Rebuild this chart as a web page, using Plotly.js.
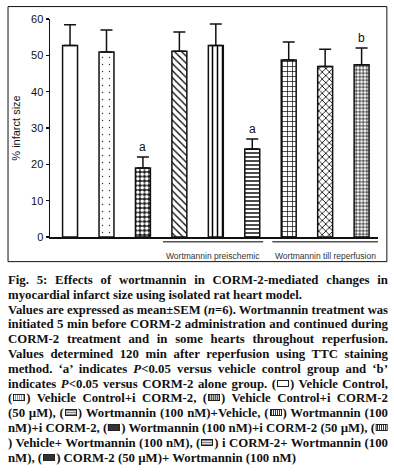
<!DOCTYPE html>
<html>
<head>
<meta charset="utf-8">
<script src="https://cdn.plot.ly/plotly-3.0.1.min.js"></script>
<style>
  html, body { margin: 0; padding: 0; background: #fff; }
  #wrap { position: relative; width: 394px; height: 472px; overflow: hidden; }
  #chart { position: absolute; left: 0; top: 0; width: 394px; height: 472px; }
  #caption {
    position: absolute; left: 8px; top: 273px; width: 380px;
    font-family: "Liberation Serif", "Times New Roman", serif;
    font-weight: bold; font-size: 12.8px; line-height: 14.8px; color: #111;
  }
  #caption .ln { white-space: nowrap; text-align: justify; text-align-last: justify; width: 380px; transform-origin: 0 0; }
  #caption .ln.last { text-align-last: left; }
  .sw { display: inline-block; width: 10px; height: 5px; border: 1px solid #222; vertical-align: 1px; margin: 0 1px; }
</style>
</head>
<body>
<div id="wrap">
  <div id="chart"></div>
  <div id="caption"></div>
</div>
<script>
// ---- data ----
const categories = [
  'Vehicle Control',
  'Vehicle Control+i CORM-2',
  'Vehicle Control+i CORM-2 (50 µM)',
  'Wortmannin (100 nM)+Vehicle',
  'Wortmannin (100 nM)+i CORM-2',
  'Wortmannin (100 nM)+i CORM-2 (50 µM)',
  'Vehicle+ Wortmannin (100 nM)',
  'i CORM-2+ Wortmannin (100 nM)',
  'CORM-2 (50 µM)+ Wortmannin (100 nM)'
];
const meanInfarct = [52.7, 50.9, 19.0, 51.1, 52.7, 24.2, 48.7, 46.9, 47.4];
const semInfarct  = [5.7, 6.1, 3.0, 5.3, 5.9, 2.8, 5.0, 4.8, 4.6];
const sigLetters  = ['', '', 'a', '', '', 'a', '', '', 'b'];
const groupNames  = ['Wortmannin preischemic', 'Wortmannin till reperfusion'];
const groupFirst  = [3, 6];
const groupLast   = [5, 8];
const yTicks      = [0, 10, 20, 30, 40, 50, 60];
const yTitle      = '% infarct size';

// ---- styles ----
const patShape = ['', '.', '.', '\\', '|', '-', '+', 'x', '+'];
const patSize  = [8, 7, 4.5, 5, 5, 4, 5, 5, 3.5];
const patSolid = [0.2, 0.03, 0.55, 0.25, 0.3, 0.35, 0.25, 0.3, 0.35];
const patBg    = ['white','white','#1a1a1a','white','white','white','white','white','white'];
const patFg    = ['black','#333','white','black','black','black','black','black','black'];

const traces = categories.map((c, i) => ({
  type: 'bar',
  name: c,
  x: [i],
  y: [meanInfarct[i]],
  width: 0.41,
  hovertext: [c],
  hoverinfo: 'text+y',
  marker: {
    color: patBg[i],
    line: { color: '#111', width: 1.5 },
    pattern: { shape: patShape[i], size: patSize[i], solidity: patSolid[i],
               fgcolor: patFg[i], bgcolor: patBg[i], fillmode: 'replace' }
  },
  error_y: { type: 'data', symmetric: false, array: [semInfarct[i]], arrayminus: [0],
             color: '#111', thickness: 1.5, width: 6 }
}));

const annotations = [];
categories.forEach((c, i) => {
  if (sigLetters[i]) {
    annotations.push({ x: i, y: meanInfarct[i] + semInfarct[i], text: sigLetters[i], showarrow: false,
      xref: 'x', yref: 'y', yanchor: 'bottom', yshift: 1,
      font: { family: 'Liberation Sans, Arial, sans-serif', size: 12, color: '#111' } });
  }
});

const shapes = [];
groupNames.forEach((g, k) => {
  const x0 = groupFirst[k] - 0.45;
  const x1 = groupLast[k] + (k === 0 ? 0.3 : 0.45);
  shapes.push({ type: 'line', xref: 'x', yref: 'paper', x0: x0, x1: x1, y0: -0.022, y1: -0.022,
    line: { color: '#555', width: 1.5 } });
  annotations.push({ x: (x0 + x1) / 2, y: -0.087, xref: 'x', yref: 'paper', text: g, showarrow: false,
    yanchor: 'middle', font: { family: 'Liberation Sans, Arial, sans-serif', size: 8.5, color: '#333' } });
});
// outer frame
shapes.push({ type: 'rect', xref: 'paper', yref: 'paper', x0: -0.128, x1: 1.027, y0: -0.113, y1: 1.057,
  line: { color: '#111', width: 1 } });

const layout = {
  width: 394, height: 472,
  margin: { l: 50, r: 16, t: 19, b: 235 },
  paper_bgcolor: 'rgba(0,0,0,0)', plot_bgcolor: 'white',
  showlegend: false,
  barmode: 'overlay',
  xaxis: { range: [-0.55, 8.45], showticklabels: false, ticks: '', showgrid: false, zeroline: false,
           showline: true, linecolor: '#111', linewidth: 1.5, fixedrange: true },
  yaxis: { range: [0, 60], tickvals: yTicks, ticks: 'outside', ticklen: 3, tickwidth: 1.2, tickcolor: '#111',
           showgrid: false, zeroline: false, showline: true, linecolor: '#111', linewidth: 1.5,
           tickfont: { family: 'Liberation Sans, Arial, sans-serif', size: 11, color: '#111' },
           title: { text: yTitle, standoff: 8, font: { family: 'Liberation Sans, Arial, sans-serif', size: 11, color: '#111' } } },
  shapes: shapes,
  annotations: annotations
};

Plotly.newPlot('chart', traces, layout, { displayModeBar: false, staticPlot: true });

// ---- caption ----
const sw = (bg) => '<span class="sw" style="background:' + bg + '"></span>';
const swEmpty = sw('white');
const swDots = sw('repeating-linear-gradient(90deg,#fff 0 1px,#999 1px 2px)');
const swDark = sw('repeating-linear-gradient(90deg,#555 0 1px,#bbb 1px 2px)');
const swMid = sw('repeating-linear-gradient(0deg,#888 0 1px,#ddd 1px 2px)');
const swLines = sw('repeating-linear-gradient(90deg,#333 0 1px,#fff 1px 2px)');
const swBlack = sw('#333');
const captionLines = [
  'Fig. 5: Effects of wortmannin in CORM-2-mediated changes in',
  'myocardial infarct size using isolated rat heart model.|',
  'Values are expressed as mean±SEM (<i>n</i>=6). Wortmannin treatment was',
  'initiated 5 min before CORM-2 administration and continued during',
  'CORM-2 treatment and in some hearts throughout reperfusion.',
  'Values determined 120 min after reperfusion using TTC staining',
  'method. ‘a’ indicates <i>P</i>&lt;0.05 versus vehicle control group and ‘b’',
  'indicates <i>P</i>&lt;0.05 versus CORM-2 alone group. (' + swEmpty + ') Vehicle Control,',
  '(' + swDots + ') Vehicle Control+i CORM-2, (' + swDark + ') Vehicle Control+i CORM-2',
  '(50 µM), (' + swMid + ') Wortmannin (100 nM)+Vehicle, (' + swLines + ') Wortmannin (100',
  'nM)+i CORM-2, (' + swBlack + ') Wortmannin (100 nM)+i CORM-2 (50 µM), (' + swLines,
  ') Vehicle+ Wortmannin (100 nM), (' + swMid + ') i CORM-2+ Wortmannin (100',
  'nM), (' + swBlack + ') CORM-2 (50 µM)+ Wortmannin (100 nM)|'
];
const cap = document.getElementById('caption');
captionLines.forEach(l => {
  const d = document.createElement('div');
  const last = l.endsWith('|');
  d.className = 'ln' + (last ? ' last' : '');
  d.innerHTML = last ? l.slice(0, -1) : l;
  cap.appendChild(d);
});
// shrink any line that overflows
Array.from(cap.children).forEach(d => {
  const r = document.createRange();
  r.selectNodeContents(d);
  const w = r.getBoundingClientRect().width;
  if (w > 380) {
    d.style.width = w + 'px';
    d.style.transform = 'scaleX(' + (380 / w) + ')';
  }
});
</script>
</body>
</html>
